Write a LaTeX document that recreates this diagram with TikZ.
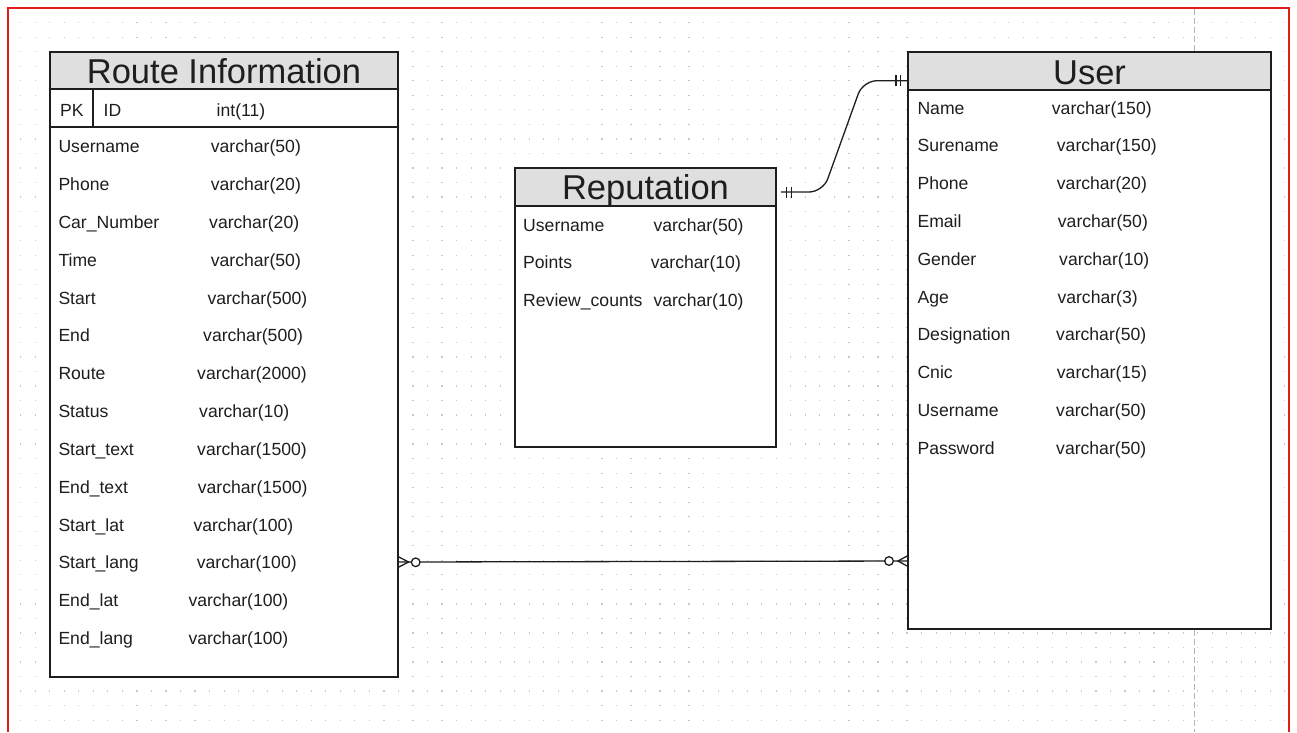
\documentclass[tikz,border=0pt]{standalone}
\usepackage{fontspec}
\setmainfont{Liberation Sans}
\usetikzlibrary{calc}

\definecolor{hdrgray}{HTML}{DFDFDF}
\definecolor{gridgray}{HTML}{C8C8C8}
\definecolor{framered}{HTML}{E31B1B}
\definecolor{ink}{HTML}{1E1E1E}
\definecolor{guide}{HTML}{B4B4B4}

\tikzset{
  tbl/.style={draw=ink, line width=1.5pt, fill=white, inner sep=0pt, outer sep=0pt, anchor=north west},
  hdr/.style={draw=ink, line width=1.5pt, fill=hdrgray, inner sep=0pt, outer sep=0pt, anchor=north west},
  ttl/.style={anchor=base, inner sep=0pt, text=ink, font=\fontsize{34.5}{36}\selectfont},
  fld/.style={anchor=base west, inner sep=0pt, text=ink, font=\fontsize{17.6}{20}\selectfont},
  sep/.style={draw=ink, line width=1.5pt},
  rel/.style={draw=ink, line width=1.3pt},
}

\begin{document}
\begin{tikzpicture}[x=1pt,y=-1pt]
  % canvas
  \fill[white] (0,0) rectangle (1297,732);
  \useasboundingbox (0,0) rectangle (1297,732);

  % dotted drawing grid
  \foreach \i in {0,...,87}
    \foreach \j in {0,...,48}
      \fill[gridgray] ({20.1+14.53*\i},{22.1+14.53*\j}) rectangle ++(1.2pt,-1.2pt);

  % page break guide and page frame
  \draw[guide, line width=1pt, dash pattern=on 6pt off 3pt] (1194,9) -- (1194,732);
  \draw[framered, line width=1.3pt] (8,732) -- (8,8) -- (1289,8) -- (1289,732);

  % ---------------- Route Information ----------------
  \node[tbl, minimum width=348pt, minimum height=625pt] (route) at (50,52) {};
  \node[hdr, minimum width=348pt, minimum height=37pt] (routeH) at (50,52) {};
  \node[ttl] (routeT) at (224,83.3) {Route Information};
  \draw[sep] ($(route.north west)+(0,75)$) -- ($(route.north east)+(0,75)$);
  \draw[sep] ($(route.north west)+(43,37)$) -- ($(route.north west)+(43,75)$);
  \node[fld] (routePK) at (60,116) {PK};
  \node[fld] (routeID) at (103.5,116) {ID};
  \node[fld] (routeIDt) at (216.5,116) {int(11)};
  \foreach \n/\t/\tx [count=\i] in {
      Username/varchar(50)/210.7,
      Phone/varchar(20)/210.7,
      Car\_Number/varchar(20)/209,
      Time/varchar(50)/210.7,
      Start/varchar(500)/207.3,
      End/varchar(500)/203,
      Route/varchar(2000)/197,
      Status/varchar(10)/199,
      Start\_text/varchar(1500)/197,
      End\_text/varchar(1500)/197.7,
      Start\_lat/varchar(100)/193.3,
      Start\_lang/varchar(100)/196.7,
      End\_lat/varchar(100)/188.3,
      End\_lang/varchar(100)/188.3}
  {
    \node[fld] (routeN\i) at (58.3,{152.7+37.83*(\i-1)}) {\n};
    \node[fld] (routeT\i) at (\tx,{152.7+37.83*(\i-1)}) {\t};
  }

  % ---------------- Reputation ----------------
  \node[tbl, minimum width=261pt, minimum height=279pt] (rep) at (515,168) {};
  \node[hdr, minimum width=261pt, minimum height=38pt] (repH) at (515,168) {};
  \node[ttl] (repT) at (645.5,199.3) {Reputation};
  \foreach \n/\t/\tx [count=\i] in {
      Username/varchar(50)/653.3,
      Points/varchar(10)/650.7,
      Review\_counts/varchar(10)/653.3}
  {
    \node[fld] (repN\i) at (523,{231+37.8*(\i-1)}) {\n};
    \node[fld] (repT\i) at (\tx,{231+37.8*(\i-1)}) {\t};
  }

  % ---------------- User ----------------
  \node[tbl, minimum width=363pt, minimum height=577pt] (user) at (908,52) {};
  \node[hdr, minimum width=363pt, minimum height=38pt] (userH) at (908,52) {};
  \node[ttl] (userT) at (1089.5,84) {User};
  \foreach \n/\t/\tx [count=\i] in {
      Name/varchar(150)/1051.7,
      Surename/varchar(150)/1056.7,
      Phone/varchar(20)/1056.7,
      Email/varchar(50)/1057.7,
      Gender/varchar(10)/1059,
      Age/varchar(3)/1057.3,
      Designation/varchar(50)/1056,
      Cnic/varchar(15)/1056.7,
      Username/varchar(50)/1056,
      Password/varchar(50)/1056}
  {
    \node[fld] (userN\i) at (917.3,{114+37.8*(\i-1)}) {\n};
    \node[fld] (userT\i) at (\tx,{114+37.8*(\i-1)}) {\t};
  }

  % ---------------- relationships ----------------
  % connection points on the table edges
  \path (route.north east) ++(0,510) coordinate (routeR);
  \path (user.north west)  ++(0,509) coordinate (userL);
  \path (rep.north east)   ++(5,24)  coordinate (repR);
  \path (user.north west)  ++(0,28.7) coordinate (userTop);

  % Route Information (zero or many) -- (zero or many) User
  \draw[rel] (routeR) -- (userL);
  \draw[rel] ($(routeR)+(0,-5.5)$) -- ($(routeR)+(10.5,0)$) -- ($(routeR)+(0,5.5)$);
  \draw[rel, fill=white] ($(routeR)+(17.7,0.3)$) circle (4.3pt);
  \draw[rel] ($(userL)+(0,-5.5)$) -- ($(userL)+(-10,0)$) -- ($(userL)+(0,5.5)$);
  \draw[rel, fill=white] ($(userL)+(-19,0)$) circle (4.3pt);

  % Reputation (one and only one) -- (one and only one) User
  \draw[rel, rounded corners=14pt] (repR) -- ($(repR)+(42,0)$) -- ($(userTop)+(-45,0)$) -- (userTop);
  \draw[rel] ($(repR)+(5.7,-5.5)$) -- ++(0,11);
  \draw[rel] ($(repR)+(10.7,-5.5)$) -- ++(0,11);
  \draw[rel] ($(userTop)+(-12,-5.5)$) -- ++(0,11);
  \draw[rel] ($(userTop)+(-7.3,-5.5)$) -- ++(0,11);
\end{tikzpicture}
\end{document}
